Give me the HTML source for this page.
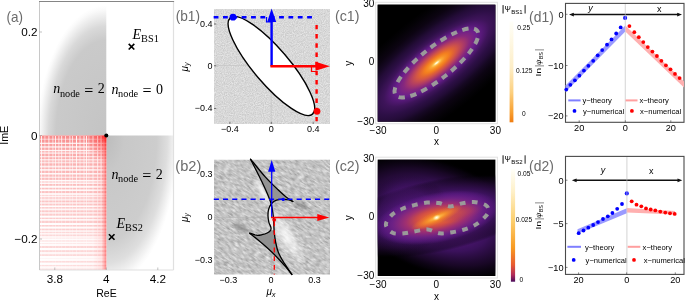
<!DOCTYPE html><html><head><meta charset="utf-8"><style>html,body{margin:0;padding:0;background:#fff;}svg{display:block;will-change:transform}</style></head><body>
<svg width="685" height="300" viewBox="0 0 685 300"><defs><radialGradient id="ga1" cx="0.5" cy="0.5" r="0.5">
<stop offset="0" stop-color="#c4c4c4"/><stop offset="0.68" stop-color="#cacaca"/>
<stop offset="0.78" stop-color="#d9d9d9"/><stop offset="0.9" stop-color="#fafafa"/><stop offset="0.93" stop-color="#ffffff"/></radialGradient><radialGradient id="ga2" cx="0.5" cy="0.5" r="0.5">
<stop offset="0" stop-color="#bcbcbc"/><stop offset="0.25" stop-color="#c8c8c8"/><stop offset="0.7" stop-color="#cdcdcd"/>
<stop offset="0.85" stop-color="#dedede"/><stop offset="0.97" stop-color="#fafafa"/><stop offset="1" stop-color="#ffffff"/></radialGradient><clipPath id="cUL"><rect x="39.5" y="1.5" width="66.8" height="134.0"/></clipPath><clipPath id="cLR"><rect x="106.3" y="135.5" width="67.2" height="134.5"/></clipPath><linearGradient id="gRb" x1="0" y1="0" x2="0" y2="1"><stop offset="0" stop-color="#f88a8a"/><stop offset="0.1" stop-color="#faa8a8"/><stop offset="0.3" stop-color="#fbbcbc"/><stop offset="0.6" stop-color="#fccccc"/><stop offset="1" stop-color="#fde0e0"/></linearGradient><linearGradient id="gVm" x1="0" y1="0" x2="0" y2="1"><stop offset="0" stop-color="#fff" stop-opacity="1"/><stop offset="0.5" stop-color="#fff" stop-opacity="0.55"/><stop offset="1" stop-color="#fff" stop-opacity="0.3"/></linearGradient><mask id="mV" maskUnits="userSpaceOnUse" x="39.5" y="135.5" width="66.8" height="134.5"><rect x="39.5" y="135.5" width="66.8" height="134.5" fill="url(#gVm)"/></mask><linearGradient id="gRx" x1="0" y1="0" x2="1" y2="0"><stop offset="0" stop-color="#f00" stop-opacity="0"/><stop offset="0.8" stop-color="#f00" stop-opacity="0.02"/><stop offset="0.93" stop-color="#f00" stop-opacity="0.1"/><stop offset="1" stop-color="#f00" stop-opacity="0.45"/></linearGradient><radialGradient id="gRc" gradientUnits="userSpaceOnUse" cx="106.3" cy="135.5" r="1" gradientTransform="translate(106.3,135.5) scale(22,26) translate(-106.3,-135.5)"><stop offset="0" stop-color="#f00" stop-opacity="0.8"/><stop offset="0.3" stop-color="#f00" stop-opacity="0.3"/><stop offset="1" stop-color="#f00" stop-opacity="0"/></radialGradient><filter id="fn1" filterUnits="userSpaceOnUse" x="214" y="9" width="116" height="115" color-interpolation-filters="sRGB"><feTurbulence type="fractalNoise" baseFrequency="0.9" numOctaves="2" seed="5"/><feColorMatrix type="matrix" values="0.2 0 0 0 0.745  0.2 0 0 0 0.745  0.2 0 0 0 0.745  0 0 0 0 1"/></filter><filter id="fn2" filterUnits="userSpaceOnUse" x="180" y="120" width="190" height="200" color-interpolation-filters="sRGB"><feTurbulence type="fractalNoise" baseFrequency="0.18 0.62" numOctaves="2" seed="9"/><feColorMatrix type="matrix" values="0.45 0 0 0 0.54  0.45 0 0 0 0.54  0.45 0 0 0 0.54  0 0 0 0 1"/></filter><clipPath id="cb2"><rect x="214" y="159.7" width="116" height="114.90000000000003"/></clipPath><radialGradient id="gGl" cx="0.5" cy="0.5" r="0.5"><stop offset="0" stop-color="#fff" stop-opacity="0.55"/><stop offset="0.6" stop-color="#fff" stop-opacity="0.25"/><stop offset="1" stop-color="#fff" stop-opacity="0"/></radialGradient><radialGradient id="gSm" cx="0.5" cy="0.5" r="0.5"><stop offset="0" stop-color="#000" stop-opacity="0.28"/><stop offset="0.6" stop-color="#000" stop-opacity="0.1"/><stop offset="1" stop-color="#000" stop-opacity="0"/></radialGradient><radialGradient id="gc1" gradientUnits="userSpaceOnUse" cx="0" cy="0" r="1" gradientTransform="translate(436.6,63) rotate(-38.4) scale(155.0,50.0)"><stop offset="0.0000" stop-color="#fffff0" stop-opacity="1"/><stop offset="0.0100" stop-color="#fff6c8" stop-opacity="1"/><stop offset="0.0240" stop-color="#fdca62" stop-opacity="1"/><stop offset="0.0420" stop-color="#fba834" stop-opacity="1"/><stop offset="0.0660" stop-color="#f79026" stop-opacity="1"/><stop offset="0.0920" stop-color="#f4801e" stop-opacity="1"/><stop offset="0.1320" stop-color="#e16432" stop-opacity="1"/><stop offset="0.1600" stop-color="#d25546" stop-opacity="1"/><stop offset="0.2100" stop-color="#af3c64" stop-opacity="1"/><stop offset="0.2600" stop-color="#87287d" stop-opacity="1"/><stop offset="0.3200" stop-color="#691e8c" stop-opacity="1"/><stop offset="0.3700" stop-color="#521873" stop-opacity="1"/><stop offset="0.4200" stop-color="#3e145a" stop-opacity="1"/><stop offset="0.5000" stop-color="#2d0f46" stop-opacity="1"/><stop offset="0.5800" stop-color="#230c37" stop-opacity="1"/><stop offset="0.6600" stop-color="#160823" stop-opacity="1"/><stop offset="0.7600" stop-color="#0c0412" stop-opacity="1"/><stop offset="0.9000" stop-color="#040206" stop-opacity="1"/><stop offset="1.0000" stop-color="#000000" stop-opacity="1"/></radialGradient><radialGradient id="gc2A" gradientUnits="userSpaceOnUse" cx="0" cy="0" r="1" gradientTransform="translate(437,217) rotate(20) scale(100,56)"><stop offset="0.0000" stop-color="#6a1e90" stop-opacity="1"/><stop offset="0.3000" stop-color="#5e1a88" stop-opacity="0.95"/><stop offset="0.5500" stop-color="#44146a" stop-opacity="0.85"/><stop offset="0.7800" stop-color="#260b3a" stop-opacity="0.65"/><stop offset="0.9200" stop-color="#10051a" stop-opacity="0.4"/><stop offset="1.0000" stop-color="#000" stop-opacity="0"/></radialGradient><radialGradient id="gc2B" gradientUnits="userSpaceOnUse" cx="0" cy="0" r="1" gradientTransform="translate(437,216) rotate(-12) scale(110,36)"><stop offset="0.0000" stop-color="#6a1e90" stop-opacity="1"/><stop offset="0.3000" stop-color="#5e1a88" stop-opacity="0.95"/><stop offset="0.5500" stop-color="#44146a" stop-opacity="0.85"/><stop offset="0.7800" stop-color="#260b3a" stop-opacity="0.65"/><stop offset="0.9200" stop-color="#10051a" stop-opacity="0.4"/><stop offset="1.0000" stop-color="#000" stop-opacity="0"/></radialGradient><radialGradient id="gc2c" gradientUnits="userSpaceOnUse" cx="0" cy="0" r="1" gradientTransform="translate(436.7,217.7) rotate(-11) scale(62.5,25.0)"><stop offset="0.0000" stop-color="#f27a2a" stop-opacity="1"/><stop offset="0.0800" stop-color="#ee7230" stop-opacity="1"/><stop offset="0.1800" stop-color="#e26634" stop-opacity="1"/><stop offset="0.2800" stop-color="#d85440" stop-opacity="1"/><stop offset="0.3400" stop-color="#cc4a48" stop-opacity="1"/><stop offset="0.4200" stop-color="#b43e5c" stop-opacity="1"/><stop offset="0.5000" stop-color="#a03070" stop-opacity="1"/><stop offset="0.6000" stop-color="#8a2a7c" stop-opacity="0.95"/><stop offset="0.7200" stop-color="#742488" stop-opacity="0.8"/><stop offset="0.8800" stop-color="#6a1e90" stop-opacity="0.4"/><stop offset="1.0000" stop-color="#6a1e90" stop-opacity="0"/></radialGradient><radialGradient id="gc2D" gradientUnits="userSpaceOnUse" cx="0" cy="0" r="1" gradientTransform="translate(405,214) rotate(-20) scale(45,40)"><stop offset="0.0000" stop-color="#5a1a85" stop-opacity="0.6"/><stop offset="0.6000" stop-color="#44146a" stop-opacity="0.35"/><stop offset="1.0000" stop-color="#000" stop-opacity="0"/></radialGradient><radialGradient id="gc2o" gradientUnits="userSpaceOnUse" cx="0" cy="0" r="1" gradientTransform="translate(436.6,217.6) rotate(-24) scale(28,6.5)"><stop offset="0.0000" stop-color="#ffd070" stop-opacity="1"/><stop offset="0.1200" stop-color="#fdb848" stop-opacity="1"/><stop offset="0.3500" stop-color="#f8962a" stop-opacity="0.9"/><stop offset="0.7000" stop-color="#f27c28" stop-opacity="0.45"/><stop offset="1.0000" stop-color="#f07a28" stop-opacity="0"/></radialGradient><radialGradient id="gdk" cx="0.5" cy="0.5" r="0.5"><stop offset="0.0000" stop-color="#000" stop-opacity="0.75"/><stop offset="0.5000" stop-color="#000" stop-opacity="0.45"/><stop offset="1.0000" stop-color="#000" stop-opacity="0"/></radialGradient><radialGradient id="gc2r" gradientUnits="userSpaceOnUse" cx="0" cy="0" r="1" gradientTransform="translate(458,212.5) rotate(-12) scale(26,8.5)"><stop offset="0.0000" stop-color="#c44a52" stop-opacity="0.75"/><stop offset="0.5000" stop-color="#b8405a" stop-opacity="0.45"/><stop offset="1.0000" stop-color="#a03070" stop-opacity="0"/></radialGradient><radialGradient id="gc2w" gradientUnits="userSpaceOnUse" cx="0" cy="0" r="1" gradientTransform="translate(436.6,217.6) rotate(-24) scale(4.5,3)"><stop offset="0.0000" stop-color="#fffff4" stop-opacity="1"/><stop offset="0.4000" stop-color="#fff0b0" stop-opacity="0.85"/><stop offset="1.0000" stop-color="#fdc050" stop-opacity="0"/></radialGradient><linearGradient id="gcb1" x1="0" y1="1" x2="0" y2="0">
<stop offset="0" stop-color="#f07c10"/><stop offset="0.1" stop-color="#f8a030"/><stop offset="0.3" stop-color="#fcd080"/><stop offset="0.55" stop-color="#fdeec8"/><stop offset="1" stop-color="#fffff8"/></linearGradient><linearGradient id="gcb2" x1="0" y1="1" x2="0" y2="0">
<stop offset="0" stop-color="#4a0a5a"/><stop offset="0.06" stop-color="#b02a5a"/><stop offset="0.15" stop-color="#e85a30"/><stop offset="0.3" stop-color="#f89a20"/><stop offset="0.55" stop-color="#fcd070"/><stop offset="0.8" stop-color="#fef0c8"/><stop offset="1" stop-color="#fffff8"/></linearGradient></defs>
<rect x="39.5" y="1.5" width="134.0" height="268.5" fill="#fff"/>
<g clip-path="url(#cUL)"><ellipse cx="106.3" cy="135.5" rx="74" ry="140" fill="url(#ga1)"/></g>
<g clip-path="url(#cLR)"><ellipse cx="106.3" cy="135.5" rx="72" ry="150" fill="url(#ga2)"/></g>
<rect x="39.5" y="135.5" width="66.8" height="134.5" fill="url(#gRb)"/>
<g mask="url(#mV)"><rect x="41.0" y="135.5" width="1" height="134.5" fill="#fff" opacity="0.85"/><rect x="44.5" y="135.5" width="0.8" height="134.5" fill="#fff" opacity="0.7"/><rect x="48.5" y="135.5" width="0.8" height="134.5" fill="#fff" opacity="1"/><rect x="52.5" y="135.5" width="0.8" height="134.5" fill="#fff" opacity="0.85"/><rect x="55.0" y="135.5" width="0.8" height="134.5" fill="#fff" opacity="1"/><rect x="58.5" y="135.5" width="0.8" height="134.5" fill="#fff" opacity="0.85"/><rect x="61.0" y="135.5" width="1.2" height="134.5" fill="#fff" opacity="0.7"/><rect x="65.0" y="135.5" width="0.8" height="134.5" fill="#fff" opacity="0.85"/><rect x="69.5" y="135.5" width="0.8" height="134.5" fill="#fff" opacity="1"/><rect x="72.0" y="135.5" width="1" height="134.5" fill="#fff" opacity="0.7"/><rect x="76.0" y="135.5" width="1" height="134.5" fill="#fff" opacity="1"/><rect x="79.5" y="135.5" width="1" height="134.5" fill="#fff" opacity="0.7"/><rect x="83.5" y="135.5" width="1" height="134.5" fill="#fff" opacity="0.85"/><rect x="86.0" y="135.5" width="1" height="134.5" fill="#fff" opacity="1"/><rect x="88.5" y="135.5" width="0.8" height="134.5" fill="#fff" opacity="0.7"/><rect x="92.5" y="135.5" width="1" height="134.5" fill="#fff" opacity="1"/><rect x="97.0" y="135.5" width="1.2" height="134.5" fill="#fff" opacity="1"/><rect x="100.5" y="135.5" width="1.2" height="134.5" fill="#fff" opacity="1"/><rect x="103.5" y="135.5" width="1" height="134.5" fill="#fff" opacity="0.85"/></g>
<rect x="39.5" y="138.7" width="66.8" height="1.03" fill="#fff" opacity="0.56"/>
<rect x="39.5" y="142.7" width="66.8" height="1.26" fill="#fff" opacity="0.87"/>
<rect x="39.5" y="146.3" width="66.8" height="1.30" fill="#fff" opacity="0.87"/>
<rect x="39.5" y="149.9" width="66.8" height="1.33" fill="#fff" opacity="0.88"/>
<rect x="39.5" y="152.5" width="66.8" height="1.15" fill="#fff" opacity="0.89"/>
<rect x="39.5" y="156.1" width="66.8" height="1.18" fill="#fff" opacity="0.75"/>
<rect x="39.5" y="159.1" width="66.8" height="1.41" fill="#fff" opacity="0.75"/>
<rect x="39.5" y="161.7" width="66.8" height="1.73" fill="#fff" opacity="0.61"/>
<rect x="39.5" y="165.7" width="66.8" height="1.77" fill="#fff" opacity="0.77"/>
<rect x="39.5" y="169.0" width="66.8" height="1.80" fill="#fff" opacity="0.77"/>
<rect x="39.5" y="173.0" width="66.8" height="1.53" fill="#fff" opacity="0.93"/>
<rect x="39.5" y="176.6" width="66.8" height="1.37" fill="#fff" opacity="0.64"/>
<rect x="39.5" y="179.9" width="66.8" height="1.60" fill="#fff" opacity="0.95"/>
<rect x="39.5" y="182.5" width="66.8" height="1.42" fill="#fff" opacity="0.95"/>
<rect x="39.5" y="185.8" width="66.8" height="1.95" fill="#fff" opacity="0.96"/>
<rect x="39.5" y="189.4" width="66.8" height="1.68" fill="#fff" opacity="0.97"/>
<rect x="39.5" y="193.0" width="66.8" height="2.01" fill="#fff" opacity="0.83"/>
<rect x="39.5" y="195.6" width="66.8" height="1.74" fill="#fff" opacity="0.83"/>
<rect x="39.5" y="198.6" width="66.8" height="2.06" fill="#fff" opacity="0.69"/>
<rect x="39.5" y="202.2" width="66.8" height="1.60" fill="#fff" opacity="0.70"/>
<rect x="39.5" y="205.5" width="66.8" height="1.62" fill="#fff" opacity="1.00"/>
<rect x="39.5" y="208.5" width="66.8" height="1.85" fill="#fff" opacity="0.86"/>
<rect x="39.5" y="212.1" width="66.8" height="1.68" fill="#fff" opacity="0.72"/>
<rect x="39.5" y="215.7" width="66.8" height="1.92" fill="#fff" opacity="1.00"/>
<rect x="39.5" y="219.0" width="66.8" height="1.74" fill="#fff" opacity="0.89"/>
<rect x="39.5" y="223.0" width="66.8" height="1.98" fill="#fff" opacity="1.00"/>
<rect x="39.5" y="226.6" width="66.8" height="2.01" fill="#fff" opacity="1.00"/>
<rect x="39.5" y="230.2" width="66.8" height="1.84" fill="#fff" opacity="0.76"/>
<rect x="39.5" y="232.8" width="66.8" height="1.87" fill="#fff" opacity="0.77"/>
<rect x="39.5" y="235.8" width="66.8" height="2.39" fill="#fff" opacity="0.77"/>
<rect x="39.5" y="238.4" width="66.8" height="2.12" fill="#fff" opacity="1.00"/>
<rect x="39.5" y="241.4" width="66.8" height="2.14" fill="#fff" opacity="0.94"/>
<rect x="39.5" y="244.0" width="66.8" height="1.97" fill="#fff" opacity="0.94"/>
<rect x="39.5" y="248.0" width="66.8" height="2.20" fill="#fff" opacity="1.00"/>
<rect x="39.5" y="252.0" width="66.8" height="2.24" fill="#fff" opacity="0.81"/>
<rect x="39.5" y="256.0" width="66.8" height="2.58" fill="#fff" opacity="1.00"/>
<rect x="39.5" y="258.6" width="66.8" height="2.30" fill="#fff" opacity="1.00"/>
<rect x="39.5" y="262.6" width="66.8" height="2.33" fill="#fff" opacity="0.98"/>
<rect x="39.5" y="266.2" width="66.8" height="2.37" fill="#fff" opacity="0.84"/>
<rect x="39.5" y="135.5" width="66.8" height="134.5" fill="url(#gRx)"/>
<rect x="39.5" y="135.5" width="66.8" height="134.5" fill="url(#gRc)"/>
<line x1="173.5" y1="1.5" x2="173.5" y2="270" stroke="#e0e0e0" stroke-width="1.2"/>
<line x1="39.5" y1="270" x2="173.5" y2="270" stroke="#e0e0e0" stroke-width="1.2"/>
<line x1="39.5" y1="1.5" x2="39.5" y2="270" stroke="#c8c8c8" stroke-width="1"/>
<line x1="39.0" y1="1.5" x2="174.1" y2="1.5" stroke="#858585" stroke-width="1.1"/>
<line x1="39.5" y1="32" x2="42.0" y2="32" stroke="#999" stroke-width="0.6"/>
<text x="37.6" y="36.2" font-size="11.7" text-anchor="end" fill="#000" font-family='"Liberation Sans",sans-serif' >0.2</text>
<line x1="39.5" y1="135.5" x2="42.0" y2="135.5" stroke="#999" stroke-width="0.6"/>
<text x="37.6" y="139.7" font-size="11.7" text-anchor="end" fill="#000" font-family='"Liberation Sans",sans-serif' >0</text>
<line x1="39.5" y1="239" x2="42.0" y2="239" stroke="#999" stroke-width="0.6"/>
<text x="37.6" y="243.2" font-size="11.7" text-anchor="end" fill="#000" font-family='"Liberation Sans",sans-serif' >&#8722;0.2</text>
<line x1="54.8" y1="270" x2="54.8" y2="267.5" stroke="#999" stroke-width="0.6"/>
<text x="54.8" y="283" font-size="11.7" text-anchor="middle" fill="#000" font-family='"Liberation Sans",sans-serif' >3.8</text>
<line x1="106.3" y1="270" x2="106.3" y2="267.5" stroke="#999" stroke-width="0.6"/>
<text x="106.3" y="283" font-size="11.7" text-anchor="middle" fill="#000" font-family='"Liberation Sans",sans-serif' >4</text>
<line x1="157.8" y1="270" x2="157.8" y2="267.5" stroke="#999" stroke-width="0.6"/>
<text x="157.8" y="283" font-size="11.7" text-anchor="middle" fill="#000" font-family='"Liberation Sans",sans-serif' >4.2</text>
<text x="106.5" y="297" font-size="10.5" text-anchor="middle" fill="#000" font-family='"Liberation Sans",sans-serif' >ReE</text>
<text x="0" y="0" font-size="10.7" text-anchor="middle" transform="translate(7.6,135.3) rotate(-90)" font-family='"Liberation Sans",sans-serif'>ImE</text>
<text x="6.5" y="22" font-size="15" fill="#6b6b6b" textLength="16.5" lengthAdjust="spacingAndGlyphs" font-family='"Liberation Sans",sans-serif'>(a)</text>
<circle cx="106.3" cy="135.5" r="2" fill="#000"/>
<path d="M128.7,43.900000000000006L134.3,49.5M128.7,49.5L134.3,43.900000000000006" stroke="#000" stroke-width="1.6"/>
<path d="M108.9,234.2L114.5,239.8M108.9,239.8L114.5,234.2" stroke="#000" stroke-width="1.6"/>
<text x="53.300000000000004" y="93.3" font-size="14" font-style="italic" font-family='"Liberation Serif",serif'>n</text>
<text x="59.9" y="96.6" font-size="10.3" font-family='"Liberation Serif",serif'>node</text>
<text x="84.2" y="95.7" font-size="16" font-family='"Liberation Serif",serif'>=</text>
<text x="97.7" y="93.3" font-size="14" font-family='"Liberation Serif",serif'>2</text>
<text x="111.5" y="94" font-size="14" font-style="italic" font-family='"Liberation Serif",serif'>n</text>
<text x="118.1" y="97.3" font-size="10.3" font-family='"Liberation Serif",serif'>node</text>
<text x="142.4" y="96.4" font-size="16" font-family='"Liberation Serif",serif'>=</text>
<text x="155.9" y="94" font-size="14" font-family='"Liberation Serif",serif'>0</text>
<text x="111.4" y="178.5" font-size="14" font-style="italic" font-family='"Liberation Serif",serif'>n</text>
<text x="118.0" y="181.8" font-size="10.3" font-family='"Liberation Serif",serif'>node</text>
<text x="142.3" y="180.9" font-size="16" font-family='"Liberation Serif",serif'>=</text>
<text x="155.8" y="178.5" font-size="14" font-family='"Liberation Serif",serif'>2</text>
<text x="132.5" y="38.5" font-size="14" font-family='"Liberation Serif",serif'><tspan font-style="italic">E</tspan><tspan font-size="10.3" dy="3">BS1</tspan></text>
<text x="116.5" y="228" font-size="14" font-family='"Liberation Serif",serif'><tspan font-style="italic">E</tspan><tspan font-size="10.3" dy="3">BS2</tspan></text>
<rect x="214" y="9" width="116" height="115" fill="#d3d3d3" filter="url(#fn1)"/>
<line x1="271.2" y1="9" x2="271.2" y2="124" stroke="#c4c4c4" stroke-width="0.7"/>
<line x1="214" y1="65.5" x2="330" y2="65.5" stroke="#c4c4c4" stroke-width="0.7"/>
<ellipse cx="0" cy="0" rx="63.3" ry="17.6" transform="translate(271.4,66) rotate(49.5)" fill="#fff" stroke="#000" stroke-width="1.4"/>
<line x1="213.65" y1="17.2" x2="312.4" y2="17.2" stroke="#00f" stroke-width="2.4" stroke-dasharray="4.8,4.55"/>
<line x1="316.6" y1="24.9" x2="316.6" y2="124" stroke="#f00" stroke-width="2.4" stroke-dasharray="4.4,4.8"/>
<circle cx="233" cy="17.2" r="3.4" fill="#00f"/>
<circle cx="317" cy="111.3" r="3.4" fill="#f00"/>
<line x1="271.6" y1="66.3" x2="271.6" y2="20" stroke="#00f" stroke-width="2.4"/>
<path d="M271.6,8.6 L276.2,22 L267.2,22 Z" fill="#00f"/>
<path d="M266.5,17 V22 H271" fill="none" stroke="#00f" stroke-width="1.2"/>
<line x1="270.4" y1="66.3" x2="318" y2="66.3" stroke="#f00" stroke-width="2.4"/>
<path d="M329.8,66.3 L315.5,61.8 L315.5,70.8 Z" fill="#f00"/>
<path d="M311.5,66.3 V71.5 H316.5" fill="none" stroke="#f00" stroke-width="1.2"/>
<text x="212.5" y="26.9" font-size="9" text-anchor="end" fill="#000" font-family='"Liberation Sans",sans-serif' >0.4</text>
<line x1="214" y1="24.0" x2="216.2" y2="24.0" stroke="#555" stroke-width="0.8"/>
<text x="212.5" y="68.7" font-size="9" text-anchor="end" fill="#000" font-family='"Liberation Sans",sans-serif' >0</text>
<line x1="214" y1="65.8" x2="216.2" y2="65.8" stroke="#555" stroke-width="0.8"/>
<text x="212.5" y="111.4" font-size="9" text-anchor="end" fill="#000" font-family='"Liberation Sans",sans-serif' >&#8722;0.4</text>
<line x1="214" y1="108.5" x2="216.2" y2="108.5" stroke="#555" stroke-width="0.8"/>
<text x="229.9" y="132.4" font-size="9" text-anchor="middle" fill="#000" font-family='"Liberation Sans",sans-serif' >&#8722;0.4</text>
<line x1="229.9" y1="124" x2="229.9" y2="121.8" stroke="#555" stroke-width="0.8"/>
<text x="271.3" y="132.4" font-size="9" text-anchor="middle" fill="#000" font-family='"Liberation Sans",sans-serif' >0</text>
<line x1="271.3" y1="124" x2="271.3" y2="121.8" stroke="#555" stroke-width="0.8"/>
<text x="313.2" y="132.4" font-size="9" text-anchor="middle" fill="#000" font-family='"Liberation Sans",sans-serif' >0.4</text>
<line x1="313.2" y1="124" x2="313.2" y2="121.8" stroke="#555" stroke-width="0.8"/>
<text x="175.7" y="21.3" font-size="15" fill="#6b6b6b" textLength="24.30000000000001" lengthAdjust="spacingAndGlyphs" font-family='"Liberation Sans",sans-serif'>(b1)</text>
<text x="0" y="0" font-size="10" text-anchor="middle" transform="translate(187.6,66.8) rotate(-90)" font-family='"Liberation Sans",sans-serif'><tspan font-style="italic">&#956;</tspan><tspan font-size="7.5" dy="1.5" font-style="italic">y</tspan></text>
<g clip-path="url(#cb2)"><rect x="180" y="120" width="190" height="200" fill="#c3c3c3" filter="url(#fn2)" transform="rotate(33 272 217)"/></g>
<g clip-path="url(#cb2)">
<ellipse cx="0" cy="0" rx="36" ry="12" transform="translate(286,236) rotate(58)" fill="url(#gGl)"/>
<ellipse cx="0" cy="0" rx="30" ry="8" transform="translate(288,238) rotate(60)" fill="url(#gGl)"/>
<ellipse cx="0" cy="0" rx="18" ry="6" transform="translate(262,191) rotate(64)" fill="url(#gGl)"/>
<ellipse cx="0" cy="0" rx="14" ry="4" transform="translate(263,193) rotate(64)" fill="url(#gGl)"/>
<ellipse cx="0" cy="0" rx="13" ry="5" transform="translate(241,228) rotate(25)" fill="url(#gSm)"/>
<ellipse cx="0" cy="0" rx="13" ry="5" transform="translate(302,206) rotate(25)" fill="url(#gSm)"/>
</g>
<line x1="271.4" y1="159.7" x2="271.4" y2="274.6" stroke="#b0b0b0" stroke-width="0.7"/>
<line x1="214" y1="217.3" x2="330" y2="217.3" stroke="#b0b0b0" stroke-width="0.7"/>
<path d="M271.20,204.00 C271.47,205.42 272.38,209.67 272.80,212.50 C273.22,215.33 273.48,218.00 273.70,221.00 C273.92,224.00 274.03,228.92 274.10,230.50 L270.6,230.3 C270.65,229.80 271.18,228.63 270.90,227.30 C270.62,225.97 269.38,224.18 268.90,222.30 C268.42,220.42 268.05,218.13 268.00,216.00 C267.95,213.87 268.00,211.58 268.60,209.50 C269.20,207.42 271.10,204.50 271.60,203.50 Z" fill="#eaeaea"/>
<path d="M250.30,158.80 C252.75,161.77 260.33,171.40 265.00,176.60 C269.67,181.80 274.68,186.53 278.30,190.00 C281.92,193.47 284.20,195.45 286.70,197.40 C289.20,199.35 292.20,200.98 293.30,201.70 C292.58,201.40 290.67,200.30 289.00,199.90 C287.33,199.50 285.38,199.27 283.30,199.30 C281.22,199.33 278.45,199.40 276.50,200.10 C274.55,200.80 272.42,202.93 271.60,203.50 C270.63,202.45 269.12,197.92 267.80,194.70 C266.48,191.48 265.15,188.60 263.30,184.70 C261.45,180.80 258.87,175.62 256.70,171.30 C254.53,166.98 251.37,160.88 250.30,158.80 Z" fill="#949494"/>
<path d="M249.30,232.90 C251.47,234.68 258.02,239.88 262.30,243.60 C266.58,247.32 271.13,251.37 275.00,255.20 C278.87,259.03 282.63,263.32 285.50,266.60 C288.37,269.88 291.08,273.52 292.20,274.90 C290.90,272.98 286.68,267.08 284.40,263.40 C282.12,259.72 279.97,256.37 278.50,252.80 C277.03,249.23 276.33,245.72 275.60,242.00 C274.87,238.28 274.35,232.42 274.10,230.50 L270.6,230.3 C270.03,230.75 268.63,232.27 267.20,233.00 C265.77,233.73 263.83,234.33 262.00,234.70 C260.17,235.07 258.32,235.50 256.20,235.20 C254.08,234.90 250.45,233.28 249.30,232.90 Z" fill="#909090"/>
<path d="M250.30,158.80 C251.37,160.88 254.53,166.98 256.70,171.30 C258.87,175.62 261.45,180.80 263.30,184.70 C265.15,188.60 266.48,191.48 267.80,194.70 C269.12,197.92 270.37,201.03 271.20,204.00 C272.03,206.97 272.38,209.67 272.80,212.50 C273.22,215.33 273.48,218.00 273.70,221.00 C273.92,224.00 273.78,227.00 274.10,230.50 C274.42,234.00 274.87,238.28 275.60,242.00 C276.33,245.72 277.03,249.23 278.50,252.80 C279.97,256.37 282.12,259.72 284.40,263.40 C286.68,267.08 290.90,272.98 292.20,274.90" fill="none" stroke="#000" stroke-width="1.3"/>
<path d="M293.30,201.70 C292.58,201.40 290.67,200.30 289.00,199.90 C287.33,199.50 285.38,199.27 283.30,199.30 C281.22,199.33 278.45,199.40 276.50,200.10 C274.55,200.80 272.92,201.93 271.60,203.50 C270.28,205.07 269.20,207.42 268.60,209.50 C268.00,211.58 267.95,213.87 268.00,216.00 C268.05,218.13 268.42,220.42 268.90,222.30 C269.38,224.18 270.62,225.97 270.90,227.30 C271.18,228.63 271.22,229.35 270.60,230.30 C269.98,231.25 268.63,232.27 267.20,233.00 C265.77,233.73 263.83,234.33 262.00,234.70 C260.17,235.07 258.32,235.50 256.20,235.20 C254.08,234.90 250.45,233.28 249.30,232.90" fill="none" stroke="#000" stroke-width="1.3"/>
<path d="M250.30,158.80 C252.75,161.77 260.33,171.40 265.00,176.60 C269.67,181.80 274.68,186.53 278.30,190.00 C281.92,193.47 284.20,195.45 286.70,197.40 C289.20,199.35 292.20,200.98 293.30,201.70" fill="none" stroke="#000" stroke-width="1.3"/>
<path d="M249.30,232.90 C251.47,234.68 258.02,239.88 262.30,243.60 C266.58,247.32 271.13,251.37 275.00,255.20 C278.87,259.03 282.63,263.32 285.50,266.60 C288.37,269.88 291.08,273.52 292.20,274.90" fill="none" stroke="#000" stroke-width="1.3"/>
<line x1="213.8" y1="199.35" x2="330" y2="199.35" stroke="#00f" stroke-width="1.5" stroke-dasharray="5.1,4.1"/>
<line x1="274.3" y1="221.5" x2="274.3" y2="274.6" stroke="#f00" stroke-width="1.3" stroke-dasharray="4.8,3.9"/>
<line x1="271.7" y1="217.4" x2="271.7" y2="171" stroke="#00f" stroke-width="1.25"/>
<path d="M271.7,160 L275.4,171.8 L268.1,171.8 Z" fill="#00f"/>
<line x1="271.1" y1="217.4" x2="318" y2="217.4" stroke="#f00" stroke-width="1.5"/>
<path d="M329.3,217.5 L317.3,214 L317.3,221 Z" fill="#f00"/>
<circle cx="283.2" cy="199.4" r="1.7" fill="#00f"/>
<circle cx="274.2" cy="219.8" r="1.9" fill="#e00"/>
<text x="212.5" y="177.0" font-size="9" text-anchor="end" fill="#000" font-family='"Liberation Sans",sans-serif' >0.3</text>
<text x="212.5" y="220.2" font-size="9" text-anchor="end" fill="#000" font-family='"Liberation Sans",sans-serif' >0</text>
<text x="212.5" y="263.2" font-size="9" text-anchor="end" fill="#000" font-family='"Liberation Sans",sans-serif' >&#8722;0.3</text>
<text x="228.4" y="283.2" font-size="9" text-anchor="middle" fill="#000" font-family='"Liberation Sans",sans-serif' >&#8722;0.3</text>
<text x="271" y="283.2" font-size="9" text-anchor="middle" fill="#000" font-family='"Liberation Sans",sans-serif' >0</text>
<text x="314.6" y="283.2" font-size="9" text-anchor="middle" fill="#000" font-family='"Liberation Sans",sans-serif' >0.3</text>
<text x="175.3" y="171.3" font-size="15" fill="#6b6b6b" textLength="26.0" lengthAdjust="spacingAndGlyphs" font-family='"Liberation Sans",sans-serif'>(b2)</text>
<text x="0" y="0" font-size="10" text-anchor="middle" transform="translate(187.6,217.5) rotate(-90)" font-family='"Liberation Sans",sans-serif'><tspan font-style="italic">&#956;</tspan><tspan font-size="7.5" dy="1.5" font-style="italic">y</tspan></text>
<text x="271" y="295" font-size="10" text-anchor="middle" font-family='"Liberation Sans",sans-serif'><tspan font-style="italic">&#956;</tspan><tspan font-size="7.5" dy="1.5" font-style="italic">x</tspan></text>
<rect x="375.7" y="2.3000000000000003" width="121.69999999999999" height="121.4" fill="#fff" stroke="#e2e2e2" stroke-width="1"/>
<rect x="377.7" y="4.7" width="117.69999999999999" height="117.0" fill="#000"/>
<rect x="375.7" y="157.2" width="121.69999999999999" height="120.80000000000001" fill="#fff" stroke="#e2e2e2" stroke-width="1"/>
<rect x="377.7" y="159.6" width="117.69999999999999" height="116.4" fill="#000"/>
<rect x="377.7" y="4.7" width="117.69999999999999" height="117.0" fill="url(#gc1)"/>
<ellipse cx="0" cy="0" rx="52" ry="15.7" transform="translate(436.4,63) rotate(-38.4)" fill="none" stroke="#9a9a9a" stroke-width="4" stroke-dasharray="6.4,5.614" stroke-dashoffset="4.2"/>
<rect x="377.7" y="159.6" width="117.69999999999999" height="116.4" fill="url(#gc2A)"/>
<rect x="377.7" y="159.6" width="117.69999999999999" height="116.4" fill="url(#gc2B)"/>
<rect x="377.7" y="159.6" width="117.69999999999999" height="116.4" fill="url(#gc2D)"/>
<rect x="377.7" y="159.6" width="117.69999999999999" height="116.4" fill="url(#gc2c)"/>
<rect x="377.7" y="159.6" width="117.69999999999999" height="116.4" fill="url(#gc2r)"/>
<rect x="377.7" y="159.6" width="117.69999999999999" height="116.4" fill="url(#gc2o)"/>
<ellipse cx="436.6" cy="217.6" rx="5" ry="5" fill="url(#gc2w)"/>
<path d="M385.90,224.40 C385.90,221.32 389.72,216.97 392.60,214.30 C395.48,211.63 399.57,209.93 403.20,208.40 C406.83,206.87 410.43,206.07 414.40,205.10 C418.37,204.13 422.95,202.95 427.00,202.60 C431.05,202.25 434.85,202.37 438.70,203.00 C442.55,203.63 446.23,206.33 450.10,206.40 C453.97,206.47 457.98,204.13 461.90,203.40 C465.82,202.67 469.63,201.72 473.60,202.00 C477.57,202.28 483.23,203.63 485.70,205.10 C488.17,206.57 488.45,208.90 488.40,210.80 C488.35,212.70 487.45,214.23 485.40,216.50 C483.35,218.77 479.55,222.25 476.10,224.40 C472.65,226.55 468.63,228.10 464.70,229.40 C460.77,230.70 456.68,231.55 452.50,232.20 C448.32,232.85 443.72,233.77 439.60,233.30 C435.48,232.83 431.72,229.77 427.80,229.40 C423.88,229.03 420.02,230.45 416.10,231.10 C412.18,231.75 408.22,233.02 404.30,233.30 C400.38,233.58 395.67,234.28 392.60,232.80 C389.53,231.32 385.90,227.48 385.90,224.40 Z" fill="none" stroke="#9a9a9a" stroke-width="4" stroke-dasharray="5.8,6.426" stroke-dashoffset="2.9"/>
<text x="374.3" y="6.9" font-size="10" text-anchor="end" fill="#000" font-family='"Liberation Sans",sans-serif' >30</text>
<text x="374.3" y="65.4" font-size="10" text-anchor="end" fill="#000" font-family='"Liberation Sans",sans-serif' >0</text>
<text x="374.3" y="124.7" font-size="10" text-anchor="end" fill="#000" font-family='"Liberation Sans",sans-serif' >&#8722;30</text>
<text x="378.1" y="133.5" font-size="10" text-anchor="middle" fill="#000" font-family='"Liberation Sans",sans-serif' >&#8722;30</text>
<text x="436.4" y="133.5" font-size="10" text-anchor="middle" fill="#000" font-family='"Liberation Sans",sans-serif' >0</text>
<text x="495.4" y="133.5" font-size="10" text-anchor="middle" fill="#000" font-family='"Liberation Sans",sans-serif' >30</text>
<text x="436.5" y="145.2" font-size="10" text-anchor="middle" fill="#000" font-family='"Liberation Sans",sans-serif' >x</text>
<text x="0" y="0" font-size="10" text-anchor="middle" transform="translate(352,63.2) rotate(-90)" font-family='"Liberation Sans",sans-serif'>y</text>
<text x="335" y="21.3" font-size="15" fill="#6b6b6b" textLength="24.5" lengthAdjust="spacingAndGlyphs" font-family='"Liberation Sans",sans-serif'>(c1)</text>
<text x="374.3" y="161.79999999999998" font-size="10" text-anchor="end" fill="#000" font-family='"Liberation Sans",sans-serif' >30</text>
<text x="374.3" y="220.0" font-size="10" text-anchor="end" fill="#000" font-family='"Liberation Sans",sans-serif' >0</text>
<text x="374.3" y="279.0" font-size="10" text-anchor="end" fill="#000" font-family='"Liberation Sans",sans-serif' >&#8722;30</text>
<text x="378.1" y="287.8" font-size="10" text-anchor="middle" fill="#000" font-family='"Liberation Sans",sans-serif' >&#8722;30</text>
<text x="436.4" y="287.8" font-size="10" text-anchor="middle" fill="#000" font-family='"Liberation Sans",sans-serif' >0</text>
<text x="495.4" y="287.8" font-size="10" text-anchor="middle" fill="#000" font-family='"Liberation Sans",sans-serif' >30</text>
<text x="436.5" y="299.5" font-size="10" text-anchor="middle" fill="#000" font-family='"Liberation Sans",sans-serif' >x</text>
<text x="0" y="0" font-size="10" text-anchor="middle" transform="translate(352,217.8) rotate(-90)" font-family='"Liberation Sans",sans-serif'>y</text>
<text x="335" y="171" font-size="15" fill="#6b6b6b" textLength="24.5" lengthAdjust="spacingAndGlyphs" font-family='"Liberation Sans",sans-serif'>(c2)</text>
<rect x="509.6" y="21.5" width="3.8" height="100.8" fill="url(#gcb1)"/>
<rect x="510.9" y="169.2" width="4.2" height="112.5" fill="url(#gcb2)"/>
<text x="517.3" y="29.6" font-size="6.6" text-anchor="start" fill="#000" font-family='"Liberation Sans",sans-serif' >0.25</text>
<text x="515.9" y="72.8" font-size="6.6" text-anchor="start" fill="#000" font-family='"Liberation Sans",sans-serif' >0.125</text>
<text x="522" y="116" font-size="6.6" text-anchor="start" fill="#000" font-family='"Liberation Sans",sans-serif' >0</text>
<text x="517.5" y="176.2" font-size="6.6" text-anchor="start" fill="#000" font-family='"Liberation Sans",sans-serif' >0.05</text>
<text x="515.7" y="222" font-size="6.6" text-anchor="start" fill="#000" font-family='"Liberation Sans",sans-serif' >0.025</text>
<text x="519.5" y="282" font-size="6.6" text-anchor="start" fill="#000" font-family='"Liberation Sans",sans-serif' >0</text>
<rect x="502.3" y="5.1" width="1.6" height="8.4" fill="#6b6b6b"/>
<text x="504.5" y="11.7" font-size="8.8" textLength="6.4" lengthAdjust="spacingAndGlyphs" font-family='"Liberation Sans",sans-serif'>&#936;</text>
<text x="511.2" y="13.5" font-size="5.9" textLength="11.4" lengthAdjust="spacingAndGlyphs" font-family='"Liberation Sans",sans-serif'>BS1</text>
<rect x="524.4" y="5.1" width="1.5" height="8.4" fill="#6b6b6b"/>
<rect x="502.3" y="155.29999999999998" width="1.6" height="8.4" fill="#6b6b6b"/>
<text x="504.5" y="161.89999999999998" font-size="8.8" textLength="6.4" lengthAdjust="spacingAndGlyphs" font-family='"Liberation Sans",sans-serif'>&#936;</text>
<text x="511.2" y="163.7" font-size="5.9" textLength="11.4" lengthAdjust="spacingAndGlyphs" font-family='"Liberation Sans",sans-serif'>BS2</text>
<rect x="524.4" y="155.29999999999998" width="1.5" height="8.4" fill="#6b6b6b"/>
<line x1="625.3" y1="3.4" x2="625.3" y2="122.3" stroke="#e2e2e2" stroke-width="1"/>
<rect x="565.5" y="3.4" width="118.5" height="118.89999999999999" fill="none" stroke="#4a4a4a" stroke-width="1.1"/>
<text x="529.1" y="21.6" font-size="15" fill="#6b6b6b" textLength="24.699999999999932" lengthAdjust="spacingAndGlyphs" font-family='"Liberation Sans",sans-serif'>(d1)</text>
<line x1="626.9" y1="156.4" x2="626.9" y2="274.4" stroke="#e2e2e2" stroke-width="1"/>
<rect x="565.5" y="156.4" width="118.5" height="117.99999999999997" fill="none" stroke="#4a4a4a" stroke-width="1.1"/>
<text x="529.1" y="170.5" font-size="15" fill="#6b6b6b" textLength="24.699999999999932" lengthAdjust="spacingAndGlyphs" font-family='"Liberation Sans",sans-serif'>(d2)</text>
<line x1="572" y1="14.6" x2="679" y2="14.6" stroke="#111" stroke-width="1.5"/>
<path d="M569,14.6 L573.8,12.7 L573.8,16.5 Z" fill="#111"/>
<path d="M682,14.6 L677.2,12.7 L677.2,16.5 Z" fill="#111"/>
<text x="590.5" y="11.3" font-size="9" text-anchor="middle" fill="#000" font-family='"Liberation Sans",sans-serif' font-style="italic">y</text>
<text x="659.3" y="12" font-size="9" text-anchor="middle" fill="#000" font-family='"Liberation Sans",sans-serif' >x</text>
<path d="M625.3,25.5 L565.5,85.4 L565.5,92 L625.3,31.5 Z" fill="#9b9bff"/>
<path d="M625.3,25.5 L684,81.5 L684,87.5 L625.3,31.5 Z" fill="#ffb0b0"/>
<circle cx="620.7" cy="27.4" r="1.9" fill="#00f"/>
<circle cx="616.2" cy="33.5" r="1.9" fill="#00f"/>
<circle cx="611.5" cy="39.4" r="1.9" fill="#00f"/>
<circle cx="607" cy="44.7" r="1.9" fill="#00f"/>
<circle cx="602.2" cy="50.1" r="1.9" fill="#00f"/>
<circle cx="597.7" cy="55.3" r="1.9" fill="#00f"/>
<circle cx="593.2" cy="60.8" r="1.9" fill="#00f"/>
<circle cx="588.4" cy="65.8" r="1.9" fill="#00f"/>
<circle cx="583.9" cy="70.6" r="1.9" fill="#00f"/>
<circle cx="579.4" cy="75.7" r="1.9" fill="#00f"/>
<circle cx="574.9" cy="80.3" r="1.9" fill="#00f"/>
<circle cx="570.4" cy="84.8" r="1.9" fill="#00f"/>
<circle cx="566.3" cy="89.6" r="1.9" fill="#00f"/>
<circle cx="629.4" cy="26.1" r="1.9" fill="#f00"/>
<circle cx="634.3" cy="32.2" r="1.9" fill="#f00"/>
<circle cx="638.8" cy="37.2" r="1.9" fill="#f00"/>
<circle cx="643.3" cy="42.1" r="1.9" fill="#f00"/>
<circle cx="647.8" cy="47.1" r="1.9" fill="#f00"/>
<circle cx="652.4" cy="51.6" r="1.9" fill="#f00"/>
<circle cx="656.9" cy="56" r="1.9" fill="#f00"/>
<circle cx="661.4" cy="60.8" r="1.9" fill="#f00"/>
<circle cx="665.9" cy="65.3" r="1.9" fill="#f00"/>
<circle cx="670.5" cy="69.3" r="1.9" fill="#f00"/>
<circle cx="675" cy="73.9" r="1.9" fill="#f00"/>
<circle cx="679.6" cy="78.1" r="1.9" fill="#f00"/>
<circle cx="625.1" cy="17.9" r="2.1" fill="#1a1aff"/>
<line x1="625.3" y1="4" x2="625.3" y2="121.8" stroke="#d4d4d4" stroke-width="1" opacity="0.55"/>
<line x1="574.8" y1="180.3" x2="679.3" y2="180.3" stroke="#111" stroke-width="1.5"/>
<path d="M571.8,180.3 L576.5999999999999,178.4 L576.5999999999999,182.20000000000002 Z" fill="#111"/>
<path d="M682.3,180.3 L677.5,178.4 L677.5,182.20000000000002 Z" fill="#111"/>
<text x="602.9" y="172.6" font-size="9" text-anchor="middle" fill="#000" font-family='"Liberation Sans",sans-serif' font-style="italic">y</text>
<text x="651.2" y="173.6" font-size="9" text-anchor="middle" fill="#000" font-family='"Liberation Sans",sans-serif' >x</text>
<path d="M626.8,208.3 L577.5,229.2 L577.5,233.8 L626.8,213.3 Z" fill="#9b9bff"/>
<path d="M626.8,208 L675,211 L675,214.6 L626.8,212.5 Z" fill="#ffb0b0"/>
<circle cx="622" cy="204" r="1.9" fill="#00f"/>
<circle cx="617.2" cy="208.8" r="1.9" fill="#00f"/>
<circle cx="612.4" cy="213" r="1.9" fill="#00f"/>
<circle cx="607.8" cy="216.3" r="1.9" fill="#00f"/>
<circle cx="603" cy="219" r="1.9" fill="#00f"/>
<circle cx="598" cy="222.1" r="1.9" fill="#00f"/>
<circle cx="593.2" cy="225" r="1.9" fill="#00f"/>
<circle cx="588.3" cy="227.7" r="1.9" fill="#00f"/>
<circle cx="583.5" cy="230.5" r="1.9" fill="#00f"/>
<circle cx="578.7" cy="233.2" r="1.9" fill="#00f"/>
<circle cx="631.7" cy="201.3" r="1.9" fill="#f00"/>
<circle cx="636.5" cy="204.7" r="1.9" fill="#f00"/>
<circle cx="641.3" cy="206.3" r="1.9" fill="#f00"/>
<circle cx="646" cy="208.4" r="1.9" fill="#f00"/>
<circle cx="650.7" cy="209.5" r="1.9" fill="#f00"/>
<circle cx="655.3" cy="210.4" r="1.9" fill="#f00"/>
<circle cx="660.3" cy="211.6" r="1.9" fill="#f00"/>
<circle cx="665.3" cy="212.6" r="1.9" fill="#f00"/>
<circle cx="670" cy="213.3" r="1.9" fill="#f00"/>
<circle cx="674.7" cy="213.9" r="1.9" fill="#f00"/>
<circle cx="626.8" cy="193.4" r="2.1" fill="#1a1aff"/>
<line x1="626.9" y1="157" x2="626.9" y2="274" stroke="#d4d4d4" stroke-width="1" opacity="0.55"/>
<line x1="568.3" y1="100.4" x2="580.6" y2="100.4" stroke="#7f7fff" stroke-width="2"/>
<text x="582.5" y="103.10000000000001" font-size="7.6" text-anchor="start" fill="#000" font-family='"Liberation Sans",sans-serif' >y&#8722;theory</text>
<circle cx="574.5" cy="110.9" r="1.9" fill="#00f"/>
<text x="583" y="113.60000000000001" font-size="7.6" text-anchor="start" fill="#000" font-family='"Liberation Sans",sans-serif' >y&#8722;numerical</text>
<line x1="625.6" y1="100.4" x2="637.5" y2="100.4" stroke="#ff9f9f" stroke-width="2"/>
<text x="639.4" y="103.10000000000001" font-size="7.6" text-anchor="start" fill="#000" font-family='"Liberation Sans",sans-serif' >x&#8722;theory</text>
<circle cx="631.9" cy="110.9" r="1.9" fill="#f00"/>
<text x="640" y="113.60000000000001" font-size="7.6" text-anchor="start" fill="#000" font-family='"Liberation Sans",sans-serif' >x&#8722;numerical</text>
<line x1="567.4" y1="246.8" x2="581" y2="246.8" stroke="#7f7fff" stroke-width="2"/>
<text x="584.9" y="249.5" font-size="7.6" text-anchor="start" fill="#000" font-family='"Liberation Sans",sans-serif' >y&#8722;theory</text>
<circle cx="573.7" cy="259.9" r="1.9" fill="#00f"/>
<text x="585.6" y="262.59999999999997" font-size="7.6" text-anchor="start" fill="#000" font-family='"Liberation Sans",sans-serif' >y&#8722;numerical</text>
<line x1="627.7" y1="246.8" x2="640.3" y2="246.8" stroke="#ff9f9f" stroke-width="2"/>
<text x="642.6" y="249.5" font-size="7.6" text-anchor="start" fill="#000" font-family='"Liberation Sans",sans-serif' >x&#8722;theory</text>
<circle cx="634" cy="259.9" r="1.9" fill="#f00"/>
<text x="643.8" y="262.59999999999997" font-size="7.6" text-anchor="start" fill="#000" font-family='"Liberation Sans",sans-serif' >x&#8722;numerical</text>
<line x1="565.5" y1="14.3" x2="567.5" y2="14.3" stroke="#333" stroke-width="0.6"/>
<text x="563.6" y="17.6" font-size="9.2" text-anchor="end" fill="#000" font-family='"Liberation Sans",sans-serif' >0</text>
<line x1="565.5" y1="65.5" x2="567.5" y2="65.5" stroke="#333" stroke-width="0.6"/>
<text x="563.6" y="68.8" font-size="9.2" text-anchor="end" fill="#000" font-family='"Liberation Sans",sans-serif' >&#8722;10</text>
<line x1="565.5" y1="115.9" x2="567.5" y2="115.9" stroke="#333" stroke-width="0.6"/>
<text x="563.6" y="119.2" font-size="9.2" text-anchor="end" fill="#000" font-family='"Liberation Sans",sans-serif' >&#8722;20</text>
<line x1="565.5" y1="180.2" x2="567.5" y2="180.2" stroke="#333" stroke-width="0.6"/>
<text x="563.6" y="183.5" font-size="9.2" text-anchor="end" fill="#000" font-family='"Liberation Sans",sans-serif' >0</text>
<line x1="565.5" y1="223.6" x2="567.5" y2="223.6" stroke="#333" stroke-width="0.6"/>
<text x="563.6" y="226.9" font-size="9.2" text-anchor="end" fill="#000" font-family='"Liberation Sans",sans-serif' >&#8722;5</text>
<line x1="565.5" y1="267.4" x2="567.5" y2="267.4" stroke="#333" stroke-width="0.6"/>
<text x="563.6" y="270.7" font-size="9.2" text-anchor="end" fill="#000" font-family='"Liberation Sans",sans-serif' >&#8722;10</text>
<line x1="579.2" y1="122.3" x2="579.2" y2="120.3" stroke="#333" stroke-width="0.6"/>
<text x="579.2" y="131.3" font-size="9.2" text-anchor="middle" fill="#000" font-family='"Liberation Sans",sans-serif' >20</text>
<line x1="625.3" y1="122.3" x2="625.3" y2="120.3" stroke="#333" stroke-width="0.6"/>
<text x="625.3" y="131.3" font-size="9.2" text-anchor="middle" fill="#000" font-family='"Liberation Sans",sans-serif' >0</text>
<line x1="670.8" y1="122.3" x2="670.8" y2="120.3" stroke="#333" stroke-width="0.6"/>
<text x="670.8" y="131.3" font-size="9.2" text-anchor="middle" fill="#000" font-family='"Liberation Sans",sans-serif' >20</text>
<line x1="578.6" y1="274.4" x2="578.6" y2="272.4" stroke="#333" stroke-width="0.6"/>
<text x="578.6" y="282.7" font-size="9.2" text-anchor="middle" fill="#000" font-family='"Liberation Sans",sans-serif' >20</text>
<line x1="626.7" y1="274.4" x2="626.7" y2="272.4" stroke="#333" stroke-width="0.6"/>
<text x="626.7" y="282.7" font-size="9.2" text-anchor="middle" fill="#000" font-family='"Liberation Sans",sans-serif' >0</text>
<line x1="675.3" y1="274.4" x2="675.3" y2="272.4" stroke="#333" stroke-width="0.6"/>
<text x="675.3" y="282.7" font-size="9.2" text-anchor="middle" fill="#000" font-family='"Liberation Sans",sans-serif' >20</text>
<g transform="translate(541.4,62.4) rotate(-90)"><text x="-13.8" y="0" font-size="7.6" textLength="8.4" lengthAdjust="spacingAndGlyphs" font-family='"Liberation Sans",sans-serif'>ln</text><text x="-4.6" y="0.6" font-size="8.4" fill="#555" font-family='"Liberation Sans",sans-serif'>|</text><text x="-2.6" y="0" font-size="7.8" font-style="italic" textLength="5.4" lengthAdjust="spacingAndGlyphs" font-family='"Liberation Sans",sans-serif'>&#968;</text><text x="3.1" y="1.7" font-size="5.6" textLength="7.3" lengthAdjust="spacingAndGlyphs" font-family='"Liberation Sans",sans-serif'>BS</text><text x="11.4" y="0.6" font-size="8.4" fill="#555" font-family='"Liberation Sans",sans-serif'>|</text></g>
<g transform="translate(541.4,215.4) rotate(-90)"><text x="-13.8" y="0" font-size="7.6" textLength="8.4" lengthAdjust="spacingAndGlyphs" font-family='"Liberation Sans",sans-serif'>ln</text><text x="-4.6" y="0.6" font-size="8.4" fill="#555" font-family='"Liberation Sans",sans-serif'>|</text><text x="-2.6" y="0" font-size="7.8" font-style="italic" textLength="5.4" lengthAdjust="spacingAndGlyphs" font-family='"Liberation Sans",sans-serif'>&#968;</text><text x="3.1" y="1.7" font-size="5.6" textLength="7.3" lengthAdjust="spacingAndGlyphs" font-family='"Liberation Sans",sans-serif'>BS</text><text x="11.4" y="0.6" font-size="8.4" fill="#555" font-family='"Liberation Sans",sans-serif'>|</text></g>
</svg></body></html>
